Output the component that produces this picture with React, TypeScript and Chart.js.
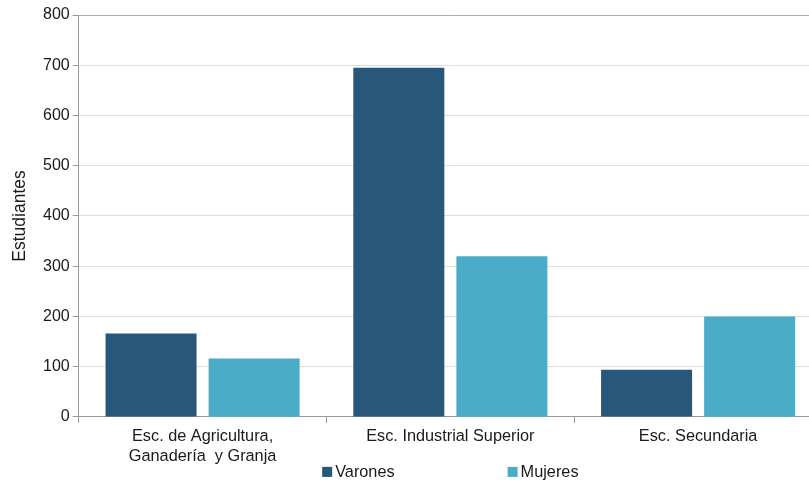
import React, { useEffect, useRef } from "react";
import { Chart, registerables } from "chart.js";

Chart.register(...registerables);

const categories: string[][] = [
  ["Esc. de Agricultura,", "Ganadería  y Granja"],
  ["Esc. Industrial Superior"],
  ["Esc. Secundaria"],
];
const varones = [166, 695, 94];
const mujeres = [116, 320, 200];
const seriesNames = ["Varones", "Mujeres"];
const seriesColors = ["#28577A", "#4AACC6"];
const yTitle = "Estudiantes";

const FONT = "'Liberation Sans', Arial, sans-serif";

const customLegend = {
  id: "customLegend",
  afterDraw(chart: any) {
    const { ctx, chartArea } = chart;
    const cx = (chartArea.left + chartArea.right) / 2;
    const y = chartArea.bottom + 55;
    ctx.save();
    ctx.font = `16.3px ${FONT}`;
    ctx.textBaseline = "middle";
    ctx.textAlign = "left";
    const gap = 113;
    const items = chart.data.datasets.map((d: any) => ({
      label: d.label,
      color: d.backgroundColor,
      w: 13 + ctx.measureText(d.label).width,
    }));
    const total = items.reduce((s: number, it: any) => s + it.w, 0) + gap * (items.length - 1);
    let x = cx - total / 2;
    for (const it of items) {
      ctx.fillStyle = it.color;
      ctx.fillRect(x, y - 5, 10, 10);
      ctx.fillStyle = "#1a1a1a";
      ctx.fillText(it.label, x + 13, y + 1);
      x += it.w + gap;
    }
    ctx.restore();
  },
};

export default function App() {
  const ref = useRef<HTMLCanvasElement>(null);
  useEffect(() => {
    if (!ref.current) return;
    const chart = new Chart(ref.current, {
      type: "bar",
      data: {
        labels: categories,
        datasets: [
          { label: seriesNames[0], data: varones, backgroundColor: seriesColors[0] },
          { label: seriesNames[1], data: mujeres, backgroundColor: seriesColors[1] },
        ],
      },
      options: {
        animation: false,
        responsive: false,
        maintainAspectRatio: false,
        layout: { padding: { top: 15, left: 10, right: 0, bottom: 12 } },
        plugins: { legend: { display: false }, tooltip: { enabled: false } },
        datasets: {
          bar: { categoryPercentage: 0.832, barPercentage: 0.883, borderWidth: 0 },
        },
        scales: {
          x: {
            grid: {
              display: true,
              drawOnChartArea: false,
              tickLength: 6,
              color: "#999999",
            },
            border: { color: "#999999", width: 1 },
            ticks: {
              color: "#1a1a1a",
              font: { family: FONT, size: 16.3 },
              padding: 4,
              maxRotation: 0,
            },
          },
          y: {
            min: 0,
            max: 800,
            ticks: {
              stepSize: 100,
              color: "#1a1a1a",
              font: { family: FONT, size: 16 },
              padding: 3,
            },
            grid: {
              color: (c: any) => (c.tick && c.tick.value === 800 ? "#aaaaaa" : "#dddddd"),
              tickLength: 6,
              tickColor: "#999999",
            },
            border: { color: "#999999", width: 1 },
            title: {
              display: true,
              text: yTitle,
              color: "#1a1a1a",
              font: { family: FONT, size: 17.5 },
              padding: { top: 0, bottom: 9 },
            },
          },
        },
      },
      plugins: [customLegend],
    });
    return () => chart.destroy();
  }, []);
  return (
    <div style={{ position: "fixed", left: 0, top: 0, width: 809, height: 482, overflow: "hidden", background: "#fff" }}>
      <canvas ref={ref} width={822} height={482} style={{ width: 822, height: 482, display: "block" }} />
    </div>
  );
}
